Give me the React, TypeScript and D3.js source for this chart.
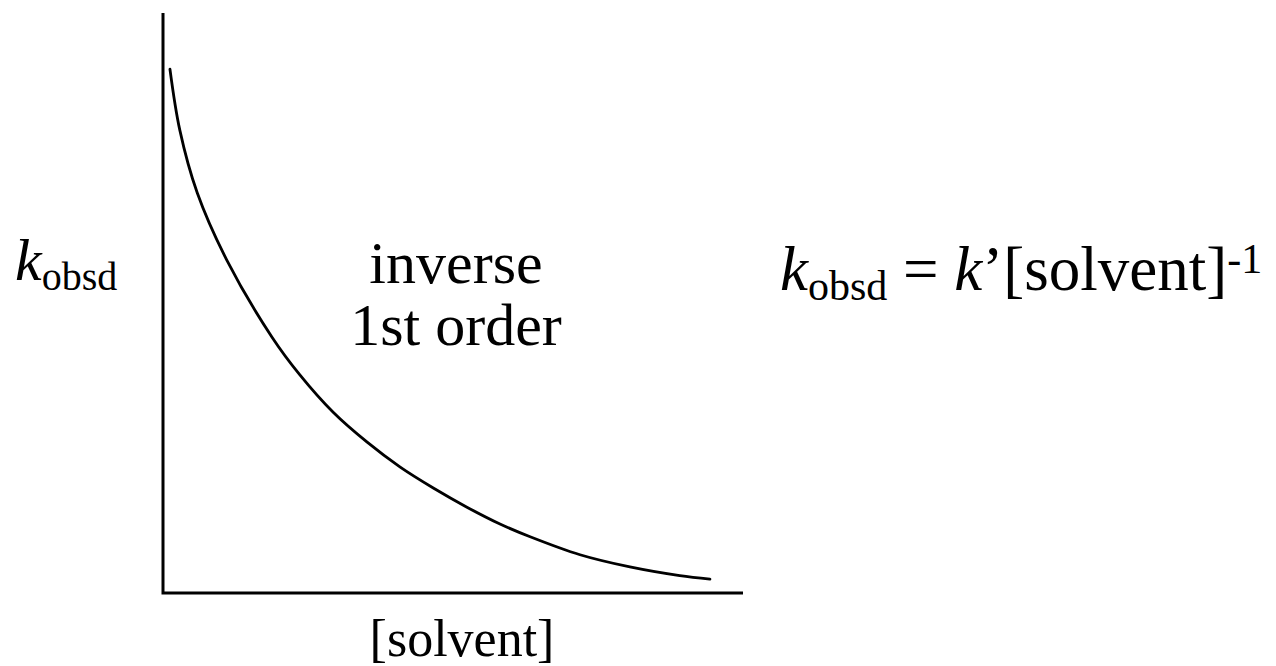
import React from "react";
import * as d3 from "d3";

const solventConc = [0.12, 0.29, 0.59, 1.10, 1.88, 2.36, 2.93, 3.52, 4.09, 4.66, 5.24, 5.81, 6.33, 7.19, 8.05, 8.91, 9.43];
const kObsd = [9.03, 7.98, 6.90, 5.74, 4.41, 3.76, 3.12, 2.60, 2.17, 1.81, 1.48, 1.19, 0.97, 0.66, 0.45, 0.30, 0.24];
const xDomain = [0, 10];
const yDomain = [0, 10];
const curveLabelLines = ["inverse", "1st order"];
const xAxisLabel = "[solvent]";

const W = 1276;
const H = 666;
const FONT = "'Liberation Serif', 'Times New Roman', serif";

export default function App() {
  const x = d3.scaleLinear().domain(xDomain).range([163, 743]);
  const y = d3.scaleLinear().domain(yDomain).range([593, 13]);
  const pts: [number, number][] = solventConc.map((v, i) => [v, kObsd[i]]);
  const line = d3
    .line<[number, number]>()
    .x((d) => x(d[0]))
    .y((d) => y(d[1]))
    .curve(d3.curveCatmullRom.alpha(0.5));

  return (
    <svg
      width={W}
      height={H}
      style={{ position: "absolute", left: 0, top: 0, background: "#fff" }}
      fontFamily={FONT}
    >
      <rect width={W} height={H} fill="#fff" />
      {/* axes */}
      <path
        d={`M${x(xDomain[0])},${y(yDomain[1])}V${y(yDomain[0])}H${x(xDomain[1])}`}
        fill="none"
        stroke="#000"
        strokeWidth={3}
      />
      {/* curve */}
      <path d={line(pts) || ""} fill="none" stroke="#000" strokeWidth={2.8} strokeLinecap="round" />

      {/* y label */}
      <text x={15} y={280} fontSize={60} fill="#000">
        <tspan fontStyle="italic">k</tspan>
        <tspan fontSize={40} dy={10}>obsd</tspan>
      </text>

      {/* curve label */}
      {curveLabelLines.map((t, i) => (
        <text key={t} x={456} y={283 + i * 62} fontSize={60} textAnchor="middle" fill="#000">
          {t}
        </text>
      ))}

      {/* x label */}
      <text x={462} y={656} fontSize={52} textAnchor="middle" fill="#000">
        {xAxisLabel}
      </text>

      {/* equation */}
      <text x={780} y={290} fontSize={63} fill="#000">
        <tspan fontStyle="italic">k</tspan>
        <tspan fontSize={42} dy={10}>obsd</tspan>
        <tspan dy={-10}> = </tspan>
        <tspan fontStyle="italic">k</tspan>
        <tspan>’[solvent]</tspan>
        <tspan fontSize={42} dy={-17}>-1</tspan>
      </text>
    </svg>
  );
}
